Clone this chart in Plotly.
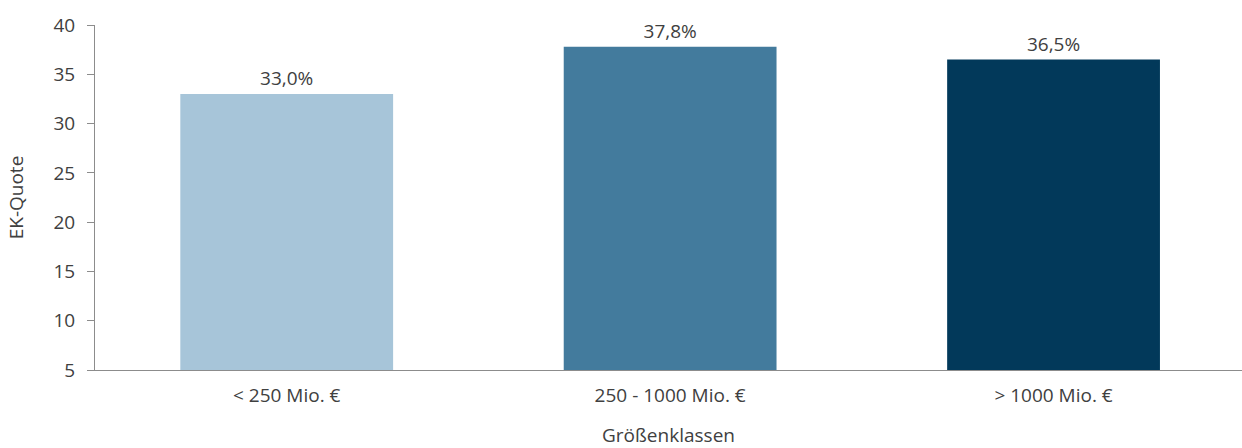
import plotly.graph_objects as go

categories = ["< 250 Mio. €", "250 - 1000 Mio. €", "> 1000 Mio. €"]
values = [33.0, 37.8, 36.5]
labels = ["33,0%", "37,8%", "36,5%"]
colors = ["#A7C5D9", "#437B9D", "#02395A"]

font_family = "Open Sans"
text_color = "#404040"
fs = 19

fig = go.Figure(go.Bar(
    x=list(range(len(categories))),
    y=values,
    width=0.555,
    marker=dict(color=colors, line=dict(width=0)),
    text=labels,
    textposition="outside",
    cliponaxis=False,
    textfont=dict(family=font_family, size=fs, color=text_color),
))

fig.update_layout(
    width=1242, height=448,
    margin=dict(l=95, r=0, t=25, b=78),
    plot_bgcolor="white", paper_bgcolor="white",
    showlegend=False,
    font=dict(family=font_family, size=fs, color=text_color),
    xaxis=dict(
        tickmode="array", tickvals=list(range(len(categories))), ticktext=categories,
        range=[-0.5, 2.4915],
        showline=True, linecolor="#8c8c8c", linewidth=1,
        ticks="", showgrid=False, zeroline=False,
        ticklabelstandoff=8,
        title=dict(text="Größenklassen", standoff=28, font=dict(size=fs)),
        tickfont=dict(size=fs),
    ),
    yaxis=dict(
        range=[5, 40], dtick=5, tick0=5,
        showline=True, linecolor="#8c8c8c", linewidth=1,
        ticks="outside", ticklen=7, tickcolor="#8c8c8c",
        showgrid=False, zeroline=False,
        ticklabelstandoff=8,
        title=dict(text="EK-Quote", standoff=24, font=dict(size=fs)),
        tickfont=dict(size=fs),
    ),
)

fig.write_html("out.html")
